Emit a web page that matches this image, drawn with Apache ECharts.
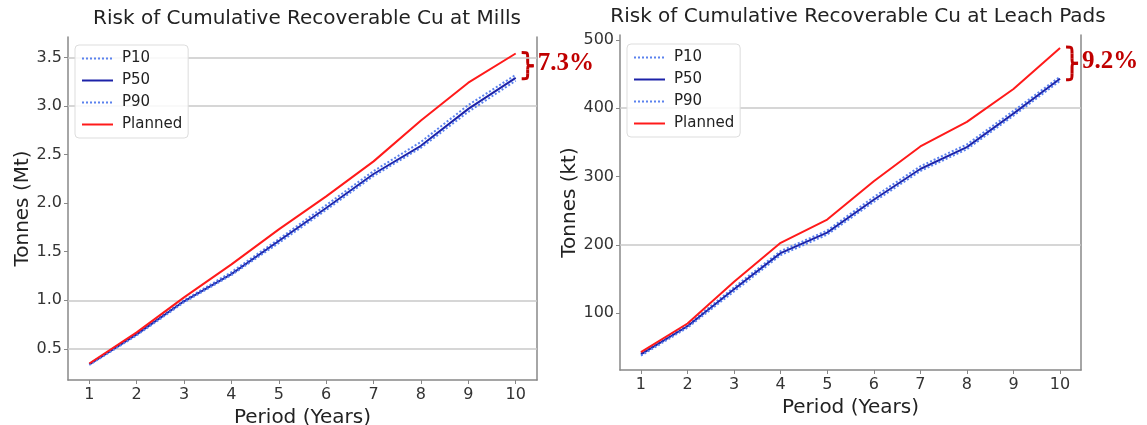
<!DOCTYPE html>
<html>
<head>
<meta charset="utf-8">
<script src="https://cdn.jsdelivr.net/npm/echarts@6/dist/echarts.min.js"></script>
<style>
  html, body { margin: 0; padding: 0; background: #fff; }
  #chart { width: 1147px; height: 425px; }
</style>
</head>
<body>
<div id="chart"></div>
<script>
// periods on the x axis
const periods = [1, 2, 3, 4, 5, 6, 7, 8, 9, 10];

// Mills, cumulative recoverable Cu (Mt)
const millsP10 = [0.345, 0.66, 1.00, 1.29, 1.63, 1.98, 2.33, 2.63, 3.01, 3.32];
const millsP50 = [0.34, 0.65, 0.99, 1.27, 1.61, 1.95, 2.30, 2.59, 2.97, 3.29];
const millsP90 = [0.335, 0.64, 0.98, 1.26, 1.59, 1.93, 2.28, 2.57, 2.94, 3.26];
const millsPlanned = [0.35, 0.67, 1.03, 1.37, 1.73, 2.07, 2.43, 2.85, 3.24, 3.54];

// Leach pads, cumulative recoverable Cu (kt)
const padsP10 = [42, 83, 138, 191, 221, 270, 315, 347, 396, 446];
const padsP50 = [40, 81, 135, 188, 218, 266, 311, 343, 392, 443];
const padsP90 = [38, 79, 132, 185, 215, 263, 308, 340, 389, 440];
const padsPlanned = [43, 85, 146, 203, 237, 293, 344, 380, 428, 488];

// tick labels and the gridlines that are drawn
const millsTicks = [0.5, 1.0, 1.5, 2.0, 2.5, 3.0, 3.5];
const padsTicks = [100, 200, 300, 400, 500];
const millsGridlines = [0.5, 1.0, 3.0, 3.5];
const padsGridlines = [200, 400];

const titles = ['Risk of Cumulative Recoverable Cu at Mills', 'Risk of Cumulative Recoverable Cu at Leach Pads'];
const gapLabels = ['7.3%', '9.2%'];

const FONT = 'DejaVu Sans';
const pair = vals => periods.map((p, i) => [p, vals[i]]);

function line(name, vals, xi, yi, color, type, extra) {
  const s = {
    name: name,
    type: 'line',
    xAxisIndex: xi,
    yAxisIndex: yi,
    data: pair(vals),
    symbol: 'none',
    showSymbol: false,
    lineStyle: { color: color, width: 2, type: type },
    itemStyle: { color: color },
    z: 3
  };
  return Object.assign(s, extra || {});
}

function gridMarks(vals) {
  return {
    silent: true,
    symbol: 'none',
    label: { show: false },
    lineStyle: { color: '#c8c8c8', width: 1.5, type: 'solid' },
    data: vals.map(v => ({ yAxis: v })),
    z: 1
  };
}

const dotBlue = '#5b82ee';
const solidBlue = '#1c22a8';
const red = '#ff1a1a';

function xAxisFor(gi) {
  return {
    type: 'value', gridIndex: gi, min: 0.55, max: 10.45,
    name: 'Period (Years)', nameLocation: 'middle', nameGap: 23,
    nameTextStyle: { fontFamily: FONT, fontSize: 20, color: '#222' },
    axisLine: { show: true, lineStyle: { color: '#888', width: 1.5 } },
    axisTick: { show: true, customValues: periods, length: 4, lineStyle: { color: '#888' } },
    axisLabel: { customValues: periods, fontFamily: FONT, fontSize: 16, color: '#333', margin: 7 },
    splitLine: { show: false }
  };
}

function yAxisFor(gi, min, max, ticks, name, gap, fmt) {
  return {
    type: 'value', gridIndex: gi, min: min, max: max, position: 'left',
    name: name, nameLocation: 'middle', nameGap: gap,
    nameTextStyle: { fontFamily: FONT, fontSize: 20, color: '#222' },
    axisLine: { show: true, lineStyle: { color: '#888', width: 1.5 } },
    axisTick: { show: true, customValues: ticks, length: 4, lineStyle: { color: '#888' } },
    axisLabel: { customValues: ticks, fontFamily: FONT, fontSize: 16, color: '#333', margin: 6, formatter: fmt },
    splitLine: { show: false }
  };
}

function spineFor(gi) {
  return {
    type: 'value', gridIndex: gi, position: 'right', min: 0, max: 1,
    axisLine: { show: true, lineStyle: { color: '#888', width: 1.5 } },
    axisTick: { show: false }, axisLabel: { show: false }, splitLine: { show: false }
  };
}

function legendFor(left, top) {
  return {
    left: left, top: top, orient: 'vertical',
    data: ['P10', 'P50', 'P90', 'Planned'],
    itemWidth: 31, itemHeight: 14, itemGap: 7,
    padding: [6, 6, 6, 6],
    itemStyle: { opacity: 0 },
    backgroundColor: 'rgba(255,255,255,0.85)',
    borderColor: '#dddddd', borderWidth: 1, borderRadius: 4,
    textStyle: { fontFamily: FONT, fontSize: 15, color: '#222', padding: [0, 0, 0, 4] }
  };
}

const chart = echarts.init(document.getElementById('chart'));

const option = {
  animation: false,
  backgroundColor: '#fff',
  title: [
    { text: titles[0], left: 302, top: 4, textAlign: 'center',
      textStyle: { fontFamily: FONT, fontSize: 20, fontWeight: 'normal', color: '#222' } },
    { text: titles[1], left: 853, top: 2, textAlign: 'center',
      textStyle: { fontFamily: FONT, fontSize: 20, fontWeight: 'normal', color: '#222' } }
  ],
  legend: [legendFor(75, 45), legendFor(627, 44)],
  grid: [
    { left: 68, top: 37, width: 469, height: 343, outerBoundsMode: 'none', containLabel: false },
    { left: 620, top: 35, width: 461, height: 335, outerBoundsMode: 'none', containLabel: false }
  ],
  xAxis: [xAxisFor(0), xAxisFor(1)],
  yAxis: [
    yAxisFor(0, 0.18, 3.71, millsTicks, 'Tonnes (Mt)', 35, v => v.toFixed(1)),
    spineFor(0),
    yAxisFor(1, 17, 507, padsTicks, 'Tonnes (kt)', 40, v => String(v)),
    spineFor(1)
  ],
  series: [
    line('P10', millsP10, 0, 0, dotBlue, [2, 2]),
    line('P50', millsP50, 0, 0, solidBlue, 'solid', { markLine: gridMarks(millsGridlines) }),
    line('P90', millsP90, 0, 0, dotBlue, [2, 2]),
    line('Planned', millsPlanned, 0, 0, red, 'solid'),
    line('P10', padsP10, 1, 2, dotBlue, [2, 2]),
    line('P50', padsP50, 1, 2, solidBlue, 'solid', { markLine: gridMarks(padsGridlines) }),
    line('P90', padsP90, 1, 2, dotBlue, [2, 2]),
    line('Planned', padsPlanned, 1, 2, red, 'solid')
  ]
};
chart.setOption(option);

// curly brace made of bezier pieces, from (x, y0) to (x, y1), tip pointing right
function brace(x, y0, y1, w) {
  const h = y1 - y0, m = (y0 + y1) / 2, c = x + w / 2;
  const st = { fill: null, stroke: '#c00000', lineWidth: 3 };
  const bz = (x1, y1_, cx1, cy1, cx2, cy2, x2, y2) => ({
    type: 'bezierCurve', silent: true, style: st,
    shape: { x1: x1, y1: y1_, cpx1: cx1, cpy1: cy1, cpx2: cx2, cpy2: cy2, x2: x2, y2: y2 }
  });
  const ln = (x1, y1_, x2, y2) => ({ type: 'line', silent: true, style: st, shape: { x1: x1, y1: y1_, x2: x2, y2: y2 } });
  return [
    bz(x, y0, c, y0, c, y0, c, y0 + h * 0.2),
    ln(c, y0 + h * 0.2, c, m - h * 0.14),
    bz(c, m - h * 0.14, c, m, c, m, x + w, m),
    bz(x + w, m, c, m, c, m, c, m + h * 0.14),
    ln(c, m + h * 0.14, c, y1 - h * 0.2),
    bz(c, y1 - h * 0.2, c, y1, c, y1, x, y1)
  ];
}

// braces and percentage labels between Planned and P50 at the last period
const last = periods.length - 1;
const gaps = [
  { xi: 0, yi: 0, top: millsPlanned[last], bottom: millsP50[last], label: gapLabels[0] },
  { xi: 1, yi: 2, top: padsPlanned[last], bottom: padsP50[last], label: gapLabels[1] }
];
let elements = [];
gaps.forEach(function (g) {
  const a = chart.convertToPixel({ xAxisIndex: g.xi, yAxisIndex: g.yi }, [periods[last], g.top]);
  const b = chart.convertToPixel({ xAxisIndex: g.xi, yAxisIndex: g.yi }, [periods[last], g.bottom]);
  const bx = a[0] + 6;
  elements = elements.concat(brace(bx, a[1] - 1, b[1] + 1, 12));
  elements.push({
    type: 'text', silent: true,
    x: bx + 16, y: (a[1] + b[1]) / 2 - 2,
    style: { text: g.label, font: 'bold 25px "Liberation Serif"', fill: '#c00000', verticalAlign: 'middle' }
  });
});
chart.setOption({ graphic: { elements: elements } });
</script>
</body>
</html>
